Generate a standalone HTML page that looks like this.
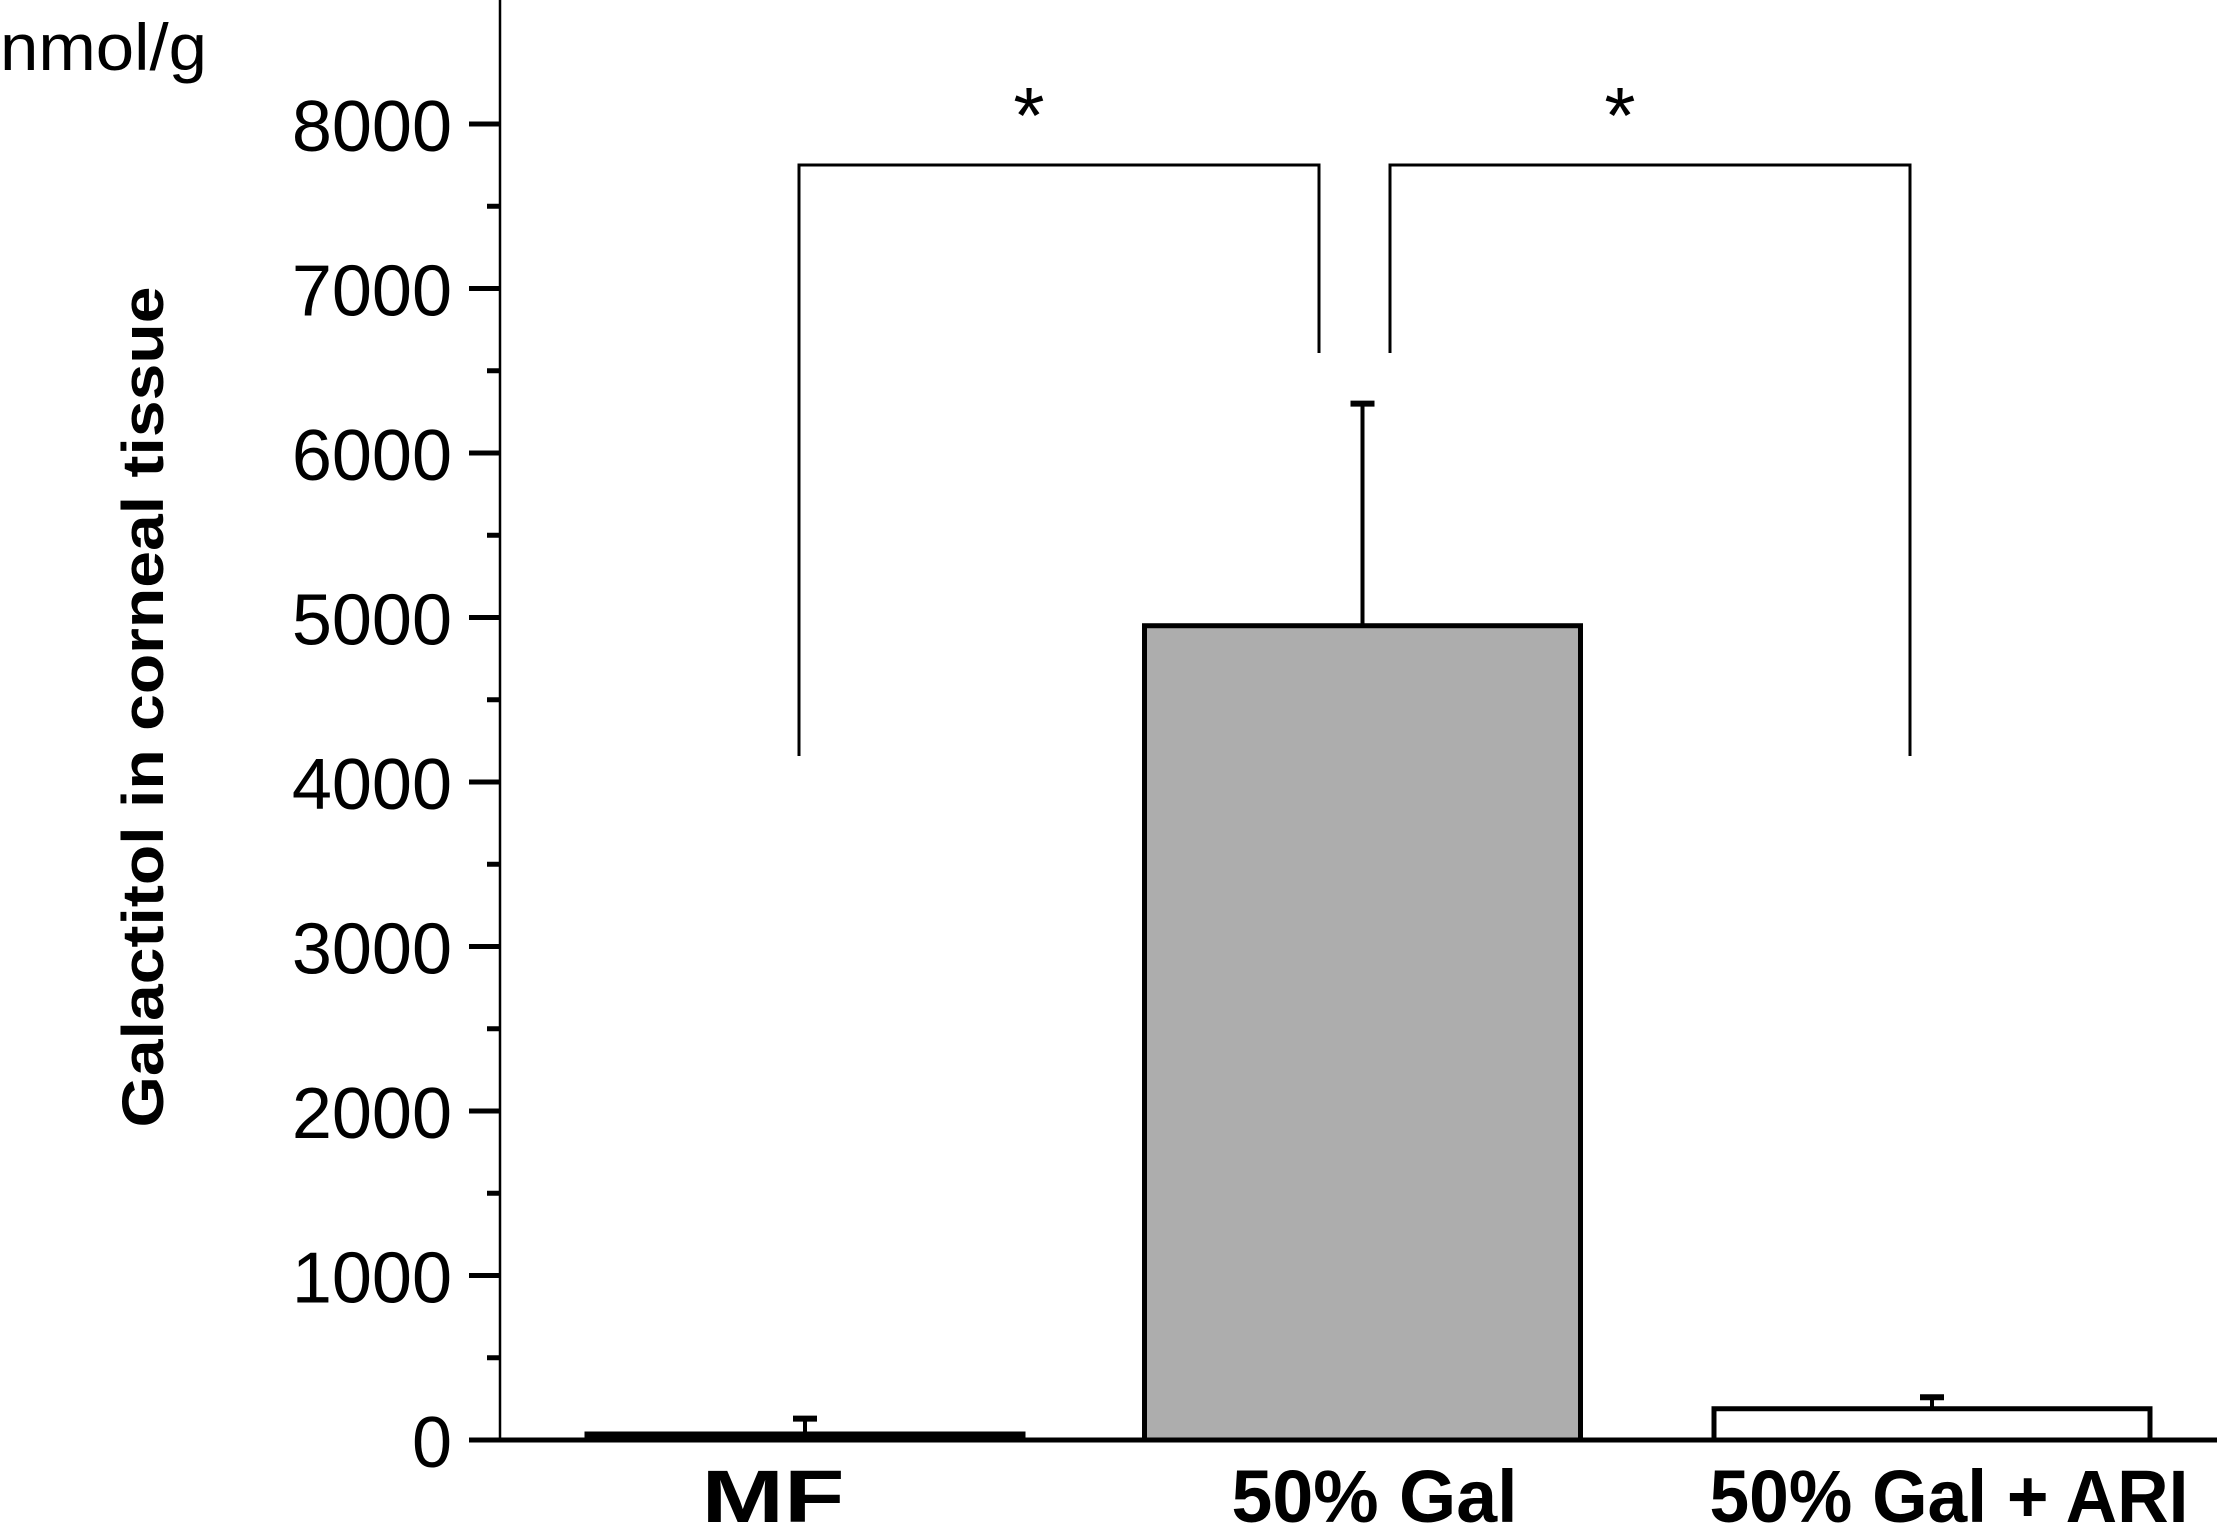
<!DOCTYPE html>
<html><head><meta charset="utf-8"><style>
html,body{margin:0;padding:0;background:#fff;}
svg{display:block;font-family:"Liberation Sans",Arial,sans-serif;}
</style></head><body>
<svg id="chart" width="2217" height="1528" viewBox="0 0 2217 1528" xmlns="http://www.w3.org/2000/svg">
<text x="0" y="70" font-size="66" textLength="207" lengthAdjust="spacingAndGlyphs">nmol/g</text>
<text transform="translate(163,707) rotate(-90)" text-anchor="middle" font-size="58" font-weight="bold" textLength="841" lengthAdjust="spacingAndGlyphs">Galactitol in corneal tissue</text>
<g id="marks"></g>
</svg>
<script>
const categories = ["MF", "50% Gal", "50% Gal + ARI"];
const meanValues = [20, 4950, 190];
const errorValues = [110, 1350, 70];
const yTicks = [0, 1000, 2000, 3000, 4000, 5000, 6000, 7000, 8000];
const yTickLabels = ["0", "1000", "2000", "3000", "4000", "5000", "6000", "7000", "8000"];
const sigLabels = ["*", "*"];

const NS = "http://www.w3.org/2000/svg";
const g = document.getElementById("marks");
const y0 = 1440, pxPer = 164.5 / 1000;
function yScale(v){ return y0 - v * pxPer; }
const barLeft0 = 587, barStep = 563.5, barW = 436;
function xBar(i){ return barLeft0 + i * barStep - (i === 1 ? 6 : 0); }
function xCenter(i){ return xBar(i) + barW / 2; }
const fills = ["#000", "#adadad", "#fff"];
const labelLens = [143, 286, 479];
const labelShift = [-32, 12, 17];
function mk(tag, attrs){ const e = document.createElementNS(NS, tag); for (const k in attrs) e.setAttribute(k, attrs[k]); g.appendChild(e); return e; }

let ax = mk("line", {x1:500, y1:0, x2:500, y2:y0, stroke:"#000", "stroke-width":2.5});


yTicks.forEach((v, i) => {
  const t = mk("line", {x1:469, y1:yScale(v), x2:500, y2:yScale(v), stroke:"#000", "stroke-width":5});
  
  
  const lb = mk("text", {x:452, y:yScale(v) + 27, "text-anchor":"end", "font-size":"72"});
  lb.textContent = yTickLabels[i];
  
  
  if (i < yTicks.length - 1) {
    const mv = (v + yTicks[i+1]) / 2;
    const m = mk("line", {x1:487, y1:yScale(mv), x2:500, y2:yScale(mv), stroke:"#000", "stroke-width":5});
    
    
  }
});

categories.forEach((c, i) => {
  const top = yScale(meanValues[i]);
  const eTop = yScale(meanValues[i] + errorValues[i]);
  const el = mk("line", {x1:xCenter(i), y1:top, x2:xCenter(i), y2:eTop, stroke:"#000", "stroke-width":4});
  
  
  const cap = mk("line", {x1:xCenter(i) - 12, y1:eTop, x2:xCenter(i) + 12, y2:eTop, stroke:"#000", "stroke-width":6});
  
  
  const h = Math.max(y0 - top, 6);
  const r = mk("rect", {x:xBar(i), y:y0 - h, width:barW, height:h, fill:fills[i], stroke:"#000", "stroke-width":5});
  
  
  const lb = mk("text", {x:xCenter(i) + labelShift[i], y:1522, "text-anchor":"middle", "font-size":"74", "font-weight":"bold", textLength:labelLens[i], lengthAdjust:"spacingAndGlyphs"});
  lb.textContent = c;
  
  
});

let xa = mk("line", {x1:474, y1:y0, x2:2217, y2:y0, stroke:"#000", "stroke-width":5});



const brackets = [[799, 1319, 756, 353], [1390, 1910, 353, 756]];
const bracketTop = 165;
brackets.forEach((b, i) => {
  const p = mk("path", {d:`M${b[0]},${b[2]} V${bracketTop} H${b[1]} V${b[3]}`, fill:"none", stroke:"#000", "stroke-width":3});
  
  
  const s = mk("text", {x:(b[0] + b[1]) / 2 - 30, y:143, "text-anchor":"middle", "font-size":"80"});
  s.textContent = sigLabels[i];
  
  
});
</script>
</body></html>
